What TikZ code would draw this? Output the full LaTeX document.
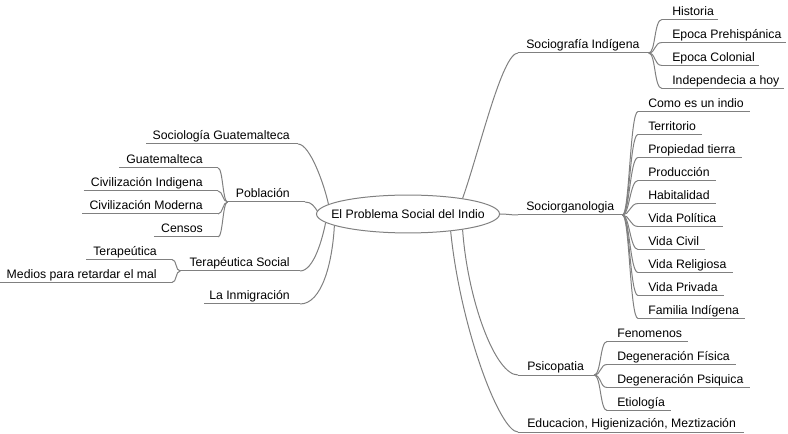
\documentclass[tikz,border=0pt]{standalone}
\usepackage{fontspec}
\setmainfont{Liberation Sans}
\usetikzlibrary{shapes.geometric}
\definecolor{edgegray}{RGB}{128,128,128}
\begin{document}
\begin{tikzpicture}[x=0.75pt,y=-0.75pt,
  font=\fontsize{9.2pt}{11pt}\selectfont,
  ln/.style={draw=edgegray, line width=0.75pt},
  lbl/.style={inner xsep=0pt, inner ysep=0pt, text height=6.75pt, text depth=3pt},
  rlbl/.style 2 args={lbl, anchor=south west, execute at begin node={\hspace*{#1}}, execute at end node={\hspace*{#2}}},
  llbl/.style 2 args={lbl, anchor=south east, execute at begin node={\hspace*{#1}}, execute at end node={\hspace*{#2}}},
  rootnode/.style={ellipse, draw=edgegray, line width=0.75pt, fill=white, inner xsep=-9pt, inner ysep=6.7pt, text height=6.7pt, text depth=0pt}
]
\useasboundingbox (0,0) rectangle (788,434);

\node[rootnode] (root) at (408,214) {El Problema Social del Indio};

% right side
\node[rlbl={6pt}{6.75pt}] (sgi) at (518,53) {Sociografía Indígena};
\node[rlbl={7.5pt}{3pt}] (hist) at (662,19.5) {Historia};
\node[rlbl={7.5pt}{3pt}] (pre) at (662,42.5) {Epoca Prehispánica};
\node[rlbl={7.5pt}{3pt}] (col) at (662,65.5) {Epoca Colonial};
\node[rlbl={7.5pt}{3pt}] (ind) at (662,88.5) {Independecia a hoy};

\node[rlbl={6pt}{6pt}] (sorg) at (518,215) {Sociorganologia};
\node[rlbl={7.5pt}{4.5pt}] (s1) at (638,111.5) {Como es un indio};
\node[rlbl={7.5pt}{4.5pt}] (s2) at (638,134.5) {Territorio};
\node[rlbl={7.5pt}{4.5pt}] (s3) at (638,157.5) {Propiedad tierra};
\node[rlbl={7.5pt}{4.5pt}] (s4) at (638,180.5) {Producción};
\node[rlbl={7.5pt}{4.5pt}] (s5) at (638,203.5) {Habitalidad};
\node[rlbl={7.5pt}{4.5pt}] (s6) at (638,226.5) {Vida Política};
\node[rlbl={7.5pt}{4.5pt}] (s7) at (638,249.5) {Vida Civil};
\node[rlbl={7.5pt}{4.5pt}] (s8) at (638,272.5) {Vida Religiosa};
\node[rlbl={7.5pt}{4.5pt}] (s9) at (638,295.5) {Vida Privada};
\node[rlbl={7.5pt}{4.5pt}] (s10) at (638,318.5) {Familia Indígena};

\node[rlbl={6.75pt}{7.5pt}] (psi) at (518,375) {Psicopatia};
\node[rlbl={7.5pt}{4.5pt}] (p1) at (607,341.5) {Fenomenos};
\node[rlbl={7.5pt}{4.5pt}] (p2) at (607,364.5) {Degeneración Física};
\node[rlbl={7.5pt}{4.5pt}] (p3) at (607,387.5) {Degeneración Psiquica};
\node[rlbl={7.5pt}{4.5pt}] (p4) at (607,410.5) {Etiología};

\node[rlbl={6.75pt}{6pt}] (edu) at (518,432) {Educacion, Higienización, Meztización};

% left side
\node[llbl={4.5pt}{6pt}] (sgu) at (298,144) {Sociología Guatemalteca};
\node[llbl={6pt}{11.25pt}] (pob) at (305,202) {Población};
\node[llbl={5.25pt}{11.25pt}] (l1) at (218,168) {Guatemalteca};
\node[llbl={5.25pt}{11.25pt}] (l2) at (218,191) {Civilización Indigena};
\node[llbl={5.25pt}{11.25pt}] (l3) at (218,214) {Civilización Moderna};
\node[llbl={5.25pt}{11.25pt}] (l4) at (218,237) {Censos};
\node[llbl={6.75pt}{7.5pt}] (ter) at (300,271) {Terapéutica Social};
\node[llbl={5.25pt}{11.25pt}] (t1) at (172,259.5) {Terapeútica};
\node[llbl={5.25pt}{11.25pt}] (t2) at (172,282.5) {Medios para retardar el mal};
\node[llbl={3.75pt}{7.5pt}] (inm) at (300,304) {La Inmigración};

% underlines
\foreach \n in {sgi,hist,pre,col,ind,sorg,s1,s2,s3,s4,s5,s6,s7,s8,s9,s10,psi,p1,p2,p3,p4,edu,sgu,pob,l1,l2,l3,l4,ter,t1,t2,inm}
  \draw[ln] (\n.south west) -- (\n.south east);

% main connectors
\draw[ln] (root.16) .. controls +(17,-48) and +(-16,0) .. (sgi.south west);
\draw[ln] (root.east) .. controls +(8,0) and +(-8,0) .. (sorg.south west);
\draw[ln] (root.-16) .. controls +(5,70) and +(-23,0) .. (psi.south west);
\draw[ln] (root.-22) .. controls +(10,98) and +(-18,0) .. (edu.south west);
\draw[ln] (sgu.south east) .. controls +(12,0) and +(-4,-19) .. (root.173);
\draw[ln] (pob.south east) .. controls +(7,0) and +(-3,-4) .. (root.178);
\draw[ln] (ter.south east) .. controls +(14,0) and +(-3,15) .. (root.186);
\draw[ln] (inm.south east) .. controls +(22,0) and +(-2,37) .. (root.189);

% child connectors
\foreach \c in {hist,pre,col,ind}
  \draw[ln] (sgi.south east) .. controls +(7,0) and +(-8,0) .. (\c.south west);
\foreach \c in {s1,s2,s3,s4,s5,s6,s7,s8,s9,s10}
  \draw[ln] (sorg.south east) .. controls +(7,0) and +(-8,0) .. (\c.south west);
\foreach \c in {p1,p2,p3,p4}
  \draw[ln] (psi.south east) .. controls +(7,0) and +(-7,0) .. (\c.south west);
\foreach \c in {l1,l2,l3,l4}
  \draw[ln] (pob.south west) .. controls +(-5,0) and +(5,0) .. (\c.south east);
\foreach \c in {t1,t2}
  \draw[ln] (ter.south west) .. controls +(-5,0) and +(5,0) .. (\c.south east);
\end{tikzpicture}
\end{document}
